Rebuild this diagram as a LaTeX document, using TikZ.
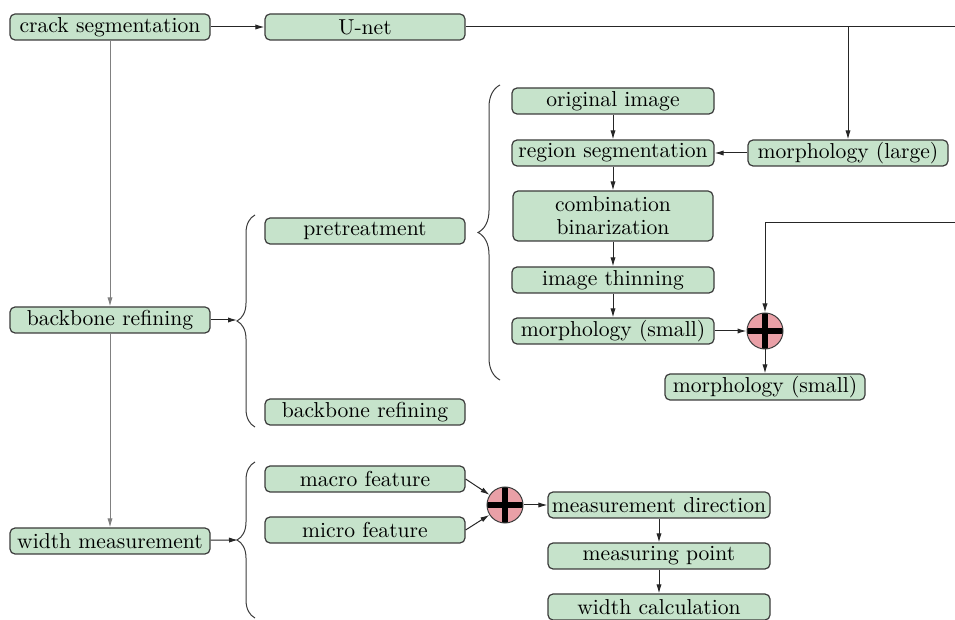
\documentclass[tikz,border=0pt]{standalone}
\usepackage{tikz}
\usetikzlibrary{arrows.meta,decorations.pathreplacing}
\definecolor{boxgreen}{HTML}{C6E3CB}
\definecolor{sumpink}{HTML}{E9A0A7}
\definecolor{edge}{HTML}{3C3C3C}
\tikzset{
  box/.style={draw=edge, fill=boxgreen, line width=0.6pt, rounded corners=2.5pt, minimum width=100pt, minimum height=13pt, inner sep=0pt, font=\fontsize{10.8}{11.5}\selectfont},
  sum/.style={circle, draw=edge, fill=sumpink, line width=0.5pt, minimum size=18pt, inner sep=0pt,
    path picture={\draw[black, line width=2.6pt] (path picture bounding box.north) -- (path picture bounding box.south)
      (path picture bounding box.west) -- (path picture bounding box.east);}},
  conn/.style={draw=black!85, line width=0.5pt, -{Latex[length=4.5pt,width=2.6pt]}},
  wire/.style={draw=black!85, line width=0.5pt},
  brc/.style={draw=edge, line width=0.5pt, decorate, decoration={brace, amplitude=#1}},
}
\begin{document}
\begin{tikzpicture}[x=0.5pt, y=-0.5pt]
  \useasboundingbox (0,0) rectangle (955,620);
  % main column
  \node[box] (crack) at (110,27) {crack segmentation};
  \node[box] (unet) at (365,27) {U-net};
  \node[box] (bbl) at (110,320) {backbone refining};
  \node[box] (width) at (110,541) {width measurement};
  \node[box] (pre) at (365,231) {pretreatment};
  \node[box] (bbr) at (365,412) {backbone refining};
  \node[box] (macro) at (365,479) {macro feature};
  \node[box] (micro) at (365,530) {micro feature};
  % pretreatment steps
  \node[box, minimum width=101pt] (orig) at (613,101) {original image};
  \node[box, minimum width=101pt] (region) at (613,153) {region segmentation};
  \node[box, minimum height=25pt, align=center] (comb) at (613,216) {combination\\binarization};
  \node[box, minimum width=101pt] (thin) at (613,280) {image thinning};
  \node[box, minimum width=101pt] (small) at (613,331) {morphology (small)};
  \node[box] (large) at (848,153) {morphology (large)};
  \node[sum] (sumA) at (765,331) {};
  \node[box] (small2) at (765,387) {morphology (small)};
  % measurement steps
  \node[sum] (sumB) at (505,505) {};
  \node[box, minimum width=111pt] (dir) at (659,505) {measurement direction};
  \node[box, minimum width=111pt] (point) at (659,556) {measuring point};
  \node[box, minimum width=111pt] (calc) at (659,607) {width calculation};
  \coordinate (outA) at (955,27);
  \coordinate (outB) at (955,223);
  \coordinate (tipL) at (237,320);
  \coordinate (tipW) at (238,540);
  % braces
  \draw[brc=9pt] (255,427) -- (255,215);
  \draw[brc=11pt] (500,380) -- (500,85);
  \draw[brc=9pt] (255,618) -- (255,462);
  % connectors
  \draw[conn] (crack) -- (unet);
  \draw[wire] (unet) -- (outA);
  \draw[conn] (large |- unet) -- (large);
  \draw[conn] (large) -- (region);
  \foreach \a/\b in {orig/region, region/comb, comb/thin, thin/small, sumA/small2, dir/point, point/calc}
    \draw[conn] (\a) -- (\b);
  \draw[conn] (small) -- (sumA);
  \draw[conn] (outB) -| (sumA);
  \draw[conn, draw=gray] (crack) -- (bbl);
  \draw[conn, draw=gray] (bbl) -- (width);
  \draw[conn] (bbl) -- (tipL);
  \draw[conn] (width) -- (tipW);
  \draw[conn] (macro.east) -- (sumB);
  \draw[conn] (micro.east) -- (sumB);
  \draw[conn] (sumB) -- (dir);
\end{tikzpicture}
\end{document}
